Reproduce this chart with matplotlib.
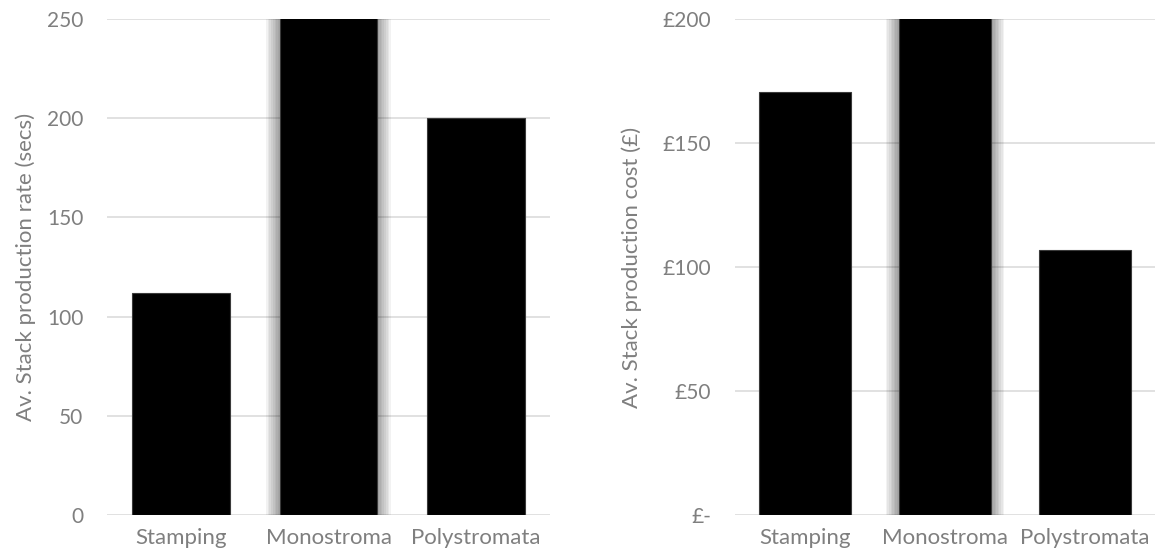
import matplotlib
matplotlib.use("Agg")
import matplotlib.pyplot as plt
import numpy as np

categories = ["Stamping", "Monostroma", "Polystromata"]
rate_secs = [112, 290, 200]          # Monostroma exceeds axis top (clipped)
cost_gbp = [170.5, 240, 107]         # Monostroma exceeds axis top (clipped)
rate_ticks = [0, 50, 100, 150, 200, 250]
cost_ticks = [0, 50, 100, 150, 200]
cost_tick_labels = ["£-", "£50", "£100", "£150", "£200"]

plt.rcParams['font.family'] = ['Lato', 'DejaVu Sans']
TXT = '#7f7f7f'
GRID = '#d9d9d9'

fig = plt.figure(figsize=(11.66, 5.58), dpi=100)
ax1 = fig.add_axes([107/1166, 1-515/558, 443/1166, 496/558])
ax2 = fig.add_axes([735/1166, 1-515/558, 420/1166, 496/558])

def draw(ax, vals, ticks, ylim, shadow_idx, label, label_x, ticklabels=None):
    x = np.arange(len(categories))
    w = 0.66
    # shadow around highlighted bar
    for k in range(1, 9):
        ax.bar(x[shadow_idx], vals[shadow_idx], width=w + 2*k*0.0118,
               color='black', alpha=0.05, linewidth=0, zorder=2)
    ax.bar(x, vals, width=w, color='black', edgecolor='#3a3a3a',
           linewidth=0.8, zorder=3)
    ax.set_xlim(-0.5, len(categories) - 0.5)
    ax.set_ylim(*ylim)
    ax.set_yticks(ticks)
    if ticklabels is not None:
        ax.set_yticklabels(ticklabels)
    ax.set_xticks(x)
    ax.set_xticklabels(categories)
    ax.yaxis.grid(True, color=GRID, linewidth=1.1, zorder=0)
    ax.set_axisbelow(True)
    for s in ax.spines.values():
        s.set_visible(False)
    ax.tick_params(axis='both', length=0, colors=TXT)
    ax.tick_params(axis='y', pad=17, labelsize=15)
    ax.tick_params(axis='x', pad=9, labelsize=16)
    ax.set_ylabel(label, fontsize=16, color=TXT)
    ax.yaxis.set_label_coords(label_x, 0.5)

draw(ax1, rate_secs, rate_ticks, (0, 250), 1,
     "Av. Stack production rate (secs)", -0.16)
draw(ax2, cost_gbp, cost_ticks, (0, 200), 1,
     "Av. Stack production cost (£)", -0.221, cost_tick_labels)

fig.savefig("out.png", dpi=100)
